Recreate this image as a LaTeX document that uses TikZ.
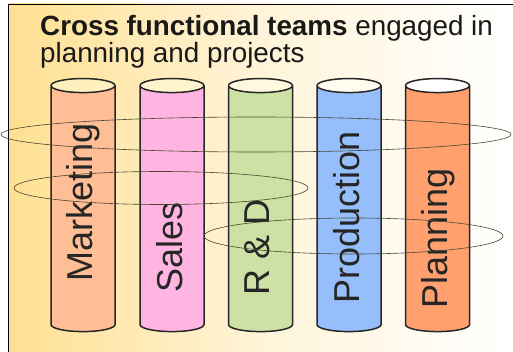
\documentclass[tikz,border=0pt]{standalone}
\usepackage{fontspec}
\setmainfont{Liberation Sans}
\usetikzlibrary{shapes.geometric}
\definecolor{panelyellow}{RGB}{255,224,145}
\definecolor{ringline}{RGB}{70,70,50}
\begin{document}
\begin{tikzpicture}[x=1pt,y=-1pt]
	\tikzstyle{column} = [draw=black!85, line width=1.5pt, cylinder, shape border rotate=90, shape aspect=2.1,
		minimum height=253pt, minimum width=64pt, cylinder uses custom fill]
	\tikzstyle{collabel} = [rotate=90, anchor=base west, inner sep=0pt, font=\fontsize{36}{36}\selectfont, text=black!85]
	\tikzstyle{titletext} = [anchor=base west, inner sep=0pt, font=\fontsize{27.8}{28}\selectfont, text=black!90]
	\tikzstyle{ring} = [draw=ringline, line width=0.6pt, ellipse, inner sep=0pt]
	\useasboundingbox (0,0) rectangle (513,352);
	\shade [left color=panelyellow, right color=white, middle color=panelyellow!35] (8,4) rectangle (513,352);
	\coordinate (tl) at (8,4);
	\draw [black, line width=0.9pt] (8,352) -- (tl) -- (513,4);
		\node[titletext] (title) at (40,36) {\textbf{Cross functional teams} engaged in};
		\node[titletext] (subtitle) at (40,63) {planning and projects};
		\node[column, cylinder body fill={rgb,255:red,255;green,190;blue,150}, cylinder end fill={rgb,255:red,255;green,240;blue,190}] (marketing) at (83,210.5) {};
		\node[column, cylinder body fill={rgb,255:red,255;green,180;blue,225}, cylinder end fill={rgb,255:red,255;green,244;blue,205}] (sales) at (172,210.5) {};
		\node[column, cylinder body fill={rgb,255:red,205;green,225;blue,165}, cylinder end fill={rgb,255:red,255;green,248;blue,222}] (rnd) at (260.5,210.5) {};
		\node[column, cylinder body fill={rgb,255:red,150;green,190;blue,250}, cylinder end fill={rgb,255:red,255;green,252;blue,240}] (production) at (349,210.5) {};
		\node[column, cylinder body fill={rgb,255:red,255;green,160;blue,110}, cylinder end fill=white] (planning) at (437.5,210.5) {};
		\node[collabel] (marketinglabel) at (92,282) {Marketing};
		\node[collabel] (saleslabel) at (182,293) {Sales};
		\node[collabel] (rndlabel) at (269,296) {R \& D};
		\node[collabel] (productionlabel) at (359,304) {Production};
		\node[collabel] (planninglabel) at (447,309) {Planning};
		\node[ring, minimum width=510pt, minimum height=35pt] (wide) at (256,134.5) {};
		\node[ring, minimum width=294pt, minimum height=33pt] (left) at (161,188) {};
		\node[ring, minimum width=299pt, minimum height=36pt] (right) at (353.5,236) {};
	\end{tikzpicture}
\end{document}
